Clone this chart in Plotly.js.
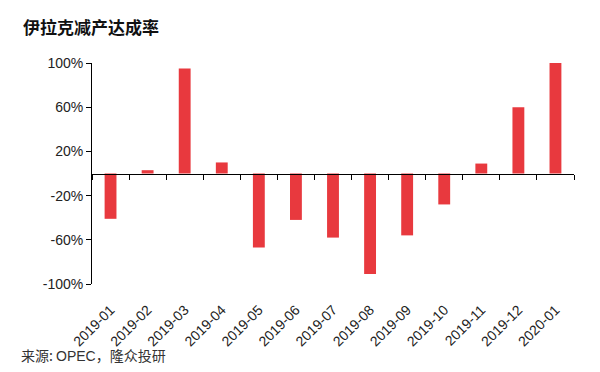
<!DOCTYPE html>
<html>
<head>
<meta charset="utf-8">
<script src="https://cdn.plot.ly/plotly-3.0.1.min.js"></script>
<style>
html,body{margin:0;padding:0;background:#fff;}
#chart{width:600px;height:372px;}
</style>
</head>
<body>
<div id="chart"></div>
<script>
const categories = ["2019-01","2019-02","2019-03","2019-04","2019-05","2019-06","2019-07","2019-08","2019-09","2019-10","2019-11","2019-12","2020-01"];
const rates = [-41, 3, 95, 10, -67, -42, -58, -91, -56, -28, 9, 60, 100];
const yTickVals = [-100, -60, -20, 20, 60, 100];
const yTickText = ["-100%", "-60%", "-20%", "20%", "60%", "100%"];
const titleText = "伊拉克减产达成率";
const sourceText = "来源: <span style='font-family:Liberation Sans'>OPEC</span>，隆众投研";

const trace = {
  type: "bar",
  x: categories,
  y: rates,
  xaxis: "x",
  yaxis: "y",
  marker: {color: "#e8393e"},
  hoverinfo: "x+y"
};
// empty helper trace so the zero-line axis (x2) is drawn
const axisHelper = {
  type: "scatter",
  mode: "none",
  x: categories,
  y: categories.map(() => null),
  xaxis: "x2",
  yaxis: "y",
  hoverinfo: "skip",
  showlegend: false
};

const layout = {
  width: 600,
  height: 372,
  margin: {l: 92, r: 26, t: 63, b: 88},
  paper_bgcolor: "#fff",
  plot_bgcolor: "#fff",
  showlegend: false,
  bargap: 0.68,
  font: {family: "Liberation Sans, Arial, sans-serif", color: "#222", size: 14},
  xaxis: {
    type: "category",
    categoryarray: categories,
    categoryorder: "array",
    range: [-0.5, categories.length - 0.5],
    showline: false,
    showgrid: false,
    zeroline: false,
    ticks: "",
    tickangle: -45,
    ticklabelstandoff: 14,
    tickfont: {size: 14, color: "#222"},
    anchor: "y"
  },
  xaxis2: {
    type: "category",
    categoryarray: categories,
    categoryorder: "array",
    range: [-0.5, categories.length - 0.5],
    overlaying: "x",
    anchor: "free",
    position: 0.5,
    showline: true,
    linecolor: "#000",
    linewidth: 1,
    ticks: "outside",
    tickson: "boundaries",
    ticklen: 5,
    tickcolor: "#000",
    showticklabels: false,
    showgrid: false,
    zeroline: false
  },
  yaxis: {
    range: [-100, 100],
    tickvals: yTickVals,
    ticktext: yTickText,
    showline: true,
    linecolor: "#000",
    linewidth: 1,
    ticks: "outside",
    ticklen: 5,
    tickcolor: "#000",
    showgrid: false,
    zeroline: false,
    tickfont: {size: 14, color: "#222"}
  },
  annotations: [
    {
      text: "<b>" + titleText + "</b>",
      xref: "paper", yref: "paper",
      x: -0.148, y: 1.165,
      xanchor: "left", yanchor: "middle",
      showarrow: false,
      font: {family: "Noto Sans CJK SC", size: 17, color: "#111"}
    },
    {
      text: sourceText,
      xref: "paper", yref: "paper",
      x: -0.152, y: -0.32,
      xanchor: "left", yanchor: "middle",
      showarrow: false,
      font: {family: "Noto Sans CJK SC, Liberation Sans", size: 14, color: "#333"}
    }
  ]
};

Plotly.newPlot("chart", [trace, axisHelper], layout, {displayModeBar: false, staticPlot: true});
</script>
</body>
</html>
